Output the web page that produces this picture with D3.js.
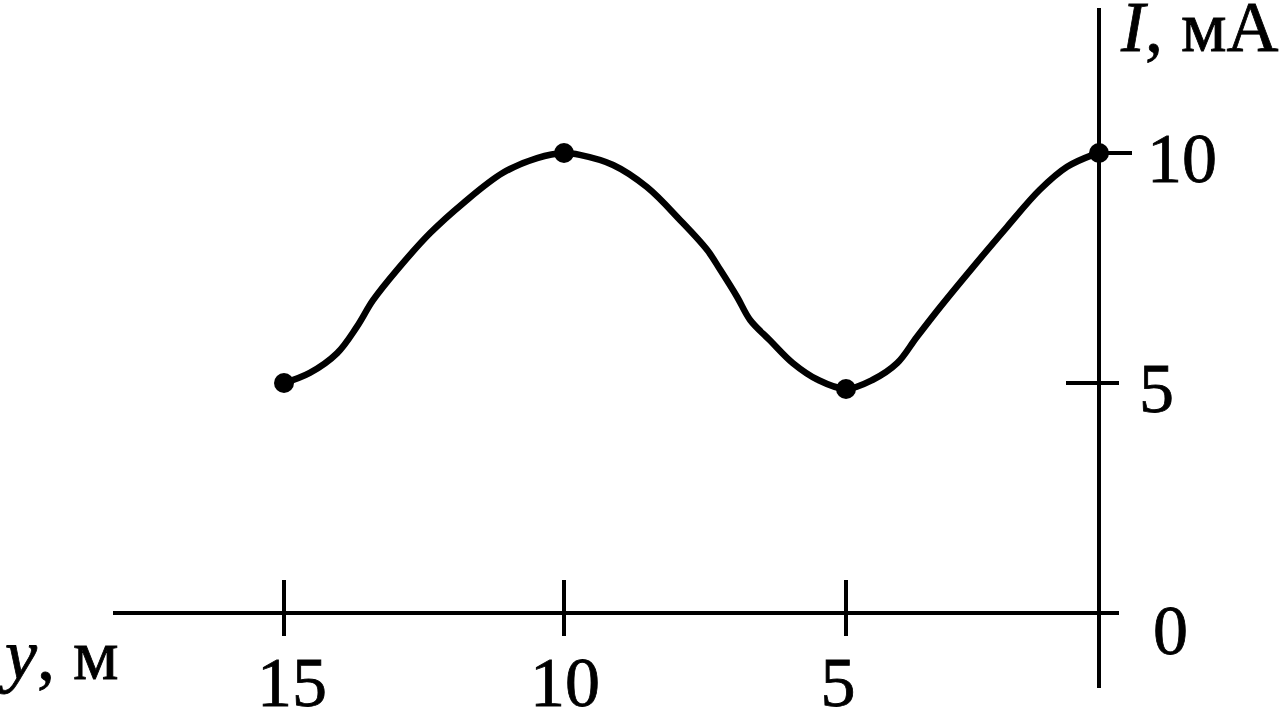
<!DOCTYPE html>
<html>
<head>
<meta charset="utf-8">
<script src="https://cdn.jsdelivr.net/npm/d3@7"></script>
<style>
  html, body { margin: 0; padding: 0; background: #fff; }
  svg { display: block; }
  text { font-family: "Liberation Serif", "Times New Roman", serif; fill: #000; stroke: #000; stroke-width: 0.8px; }
</style>
</head>
<body>
<script>
// Measured points (y in m, I in mA)
const pointY = [15, 10, 5, 0];
const pointI = [5.0, 10.0, 4.87, 10.0];

// Hand-drawn curve
const curveY = [15, 14.54, 14.05, 13.70, 13.41, 12.98, 12.39, 11.80, 11.09, 10.48, 10,
                9.72, 9.13, 8.53, 7.94, 7.46, 7.23, 6.93, 6.70, 6.35, 5.94, 5.50, 5,
                4.47, 3.99, 3.60, 3.14, 2.49, 1.82, 1.17, 0.63, 0.12, 0];
const curveI = [5.0, 5.22, 5.65, 6.22, 6.80, 7.46, 8.26, 8.91, 9.57, 9.89, 10,
                9.96, 9.74, 9.26, 8.54, 7.89, 7.46, 6.87, 6.37, 5.93, 5.43, 5.07, 4.87,
                5.07, 5.43, 6.00, 6.65, 7.52, 8.39, 9.20, 9.70, 9.96, 10];

// Ticks
const xTicks = [15, 10, 5];
const xTickLabels = ["15", "10", "5"];
const yTicks = [10, 5];
const yTickLabels = ["10", "5"];
const originLabel = "0";

const W = 1287, H = 712;
const svg = d3.select("body").append("svg").attr("width", W).attr("height", H);

// Piecewise scale: the drawing is not strictly to scale near the origin
const x = d3.scaleLinear().domain([15, 10, 5, 0]).range([284, 564, 846, 1099]);
const y = d3.scaleLinear().domain([0, 10]).range([613, 153]);

const axisW = 4;

// x axis line
svg.append("line").attr("x1", 113).attr("x2", 1119)
  .attr("y1", y(0)).attr("y2", y(0))
  .attr("stroke", "#000").attr("stroke-width", axisW);
// y axis line
svg.append("line").attr("x1", x(0)).attr("x2", x(0))
  .attr("y1", 8).attr("y2", 688)
  .attr("stroke", "#000").attr("stroke-width", axisW);

// x ticks
svg.selectAll(".xt").data(xTicks).enter().append("line")
  .attr("x1", d => x(d)).attr("x2", d => x(d))
  .attr("y1", y(0) - 33).attr("y2", y(0) + 23)
  .attr("stroke", "#000").attr("stroke-width", axisW);
svg.selectAll(".xl").data(xTicks).enter().append("text")
  .attr("x", (d, i) => x(d) + (i === 0 ? 8 : (i === 2 ? -8 : 1)))
  .attr("y", 706)
  .attr("text-anchor", "middle")
  .attr("font-size", 70)
  .text((d, i) => xTickLabels[i]);

// y ticks
svg.selectAll(".yt").data(yTicks).enter().append("line")
  .attr("x1", d => d === 10 ? x(0) : x(0) - 33)
  .attr("x2", d => d === 10 ? x(0) + 33 : x(0) + 20)
  .attr("y1", d => y(d)).attr("y2", d => y(d))
  .attr("stroke", "#000").attr("stroke-width", axisW);
svg.selectAll(".yl").data(yTicks).enter().append("text")
  .attr("x", d => d === 10 ? 1147 : 1139)
  .attr("y", d => y(d) + 29)
  .attr("font-size", 70)
  .text((d, i) => yTickLabels[i]);
svg.append("text").attr("x", 1153).attr("y", 654)
  .attr("font-size", 70).text(originLabel);

// axis titles
const tI = svg.append("text").attr("x", 1121).attr("y", 51).attr("font-size", 72);
tI.append("tspan").attr("font-style", "italic").text("I");
tI.append("tspan").text(", мА");

const tY = svg.append("text").attr("x", 5).attr("y", 679).attr("font-size", 72);
tY.append("tspan").attr("font-style", "italic").text("y");
tY.append("tspan").text(", м");

// curve
const line = d3.line()
  .x((d, i) => x(curveY[i]))
  .y((d, i) => y(curveI[i]))
  .curve(d3.curveCatmullRom.alpha(0.5));
svg.append("path").datum(curveY)
  .attr("d", line)
  .attr("fill", "none").attr("stroke", "#000")
  .attr("stroke-width", 6.5).attr("stroke-linecap", "round");

// points
svg.selectAll(".pt").data(pointY).enter().append("circle")
  .attr("cx", d => x(d))
  .attr("cy", (d, i) => y(pointI[i]))
  .attr("r", 10)
  .attr("fill", "#000");
</script>
</body>
</html>
